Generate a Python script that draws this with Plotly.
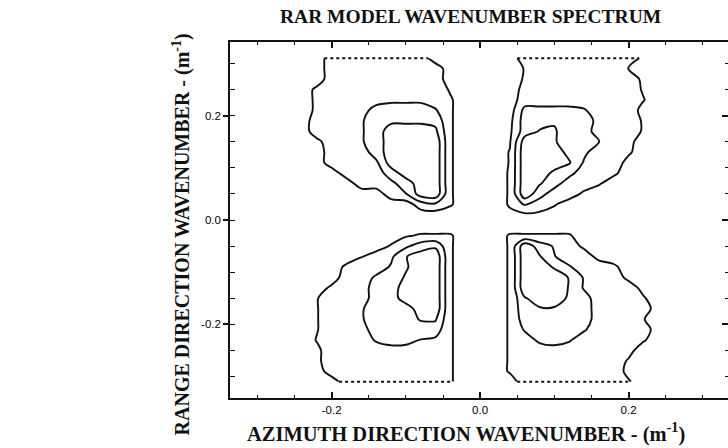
import plotly.graph_objects as go

# ---- grid coordinates (wavenumber, m^-1) ----
KX = [-0.34, -0.32, -0.30, -0.28, -0.26, -0.24, -0.22, -0.20, -0.18, -0.16, -0.14, -0.12,
      -0.10, -0.08, -0.06, -0.04, -0.02, 0.00, 0.02, 0.04, 0.06, 0.08, 0.10, 0.12, 0.14,
      0.16, 0.18, 0.20, 0.22, 0.24, 0.26, 0.28, 0.30, 0.32, 0.34]
KY = [0.31, 0.29, 0.27, 0.25, 0.23, 0.21, 0.19, 0.17, 0.15, 0.13, 0.11, 0.09, 0.07, 0.05,
      0.03, 0.01, -0.01, -0.03, -0.05, -0.07, -0.09, -0.11, -0.13, -0.15, -0.17, -0.19,
      -0.21, -0.23, -0.25, -0.27, -0.29, -0.31]

# ---- spectral level, per lobe (rows top->bottom) ----
# left lobes cover kx -0.24 .. -0.02, right lobes cover kx 0.02 .. 0.24
TL = [
    [0, 0, 1, 1, 1, 1, 1, 1, 1, 0, 0, 0],
    [0, 0, 1, 1, 1, 1, 1, 1, 1, 1, 0, 0],
    [0, 0, 1, 1, 1, 1, 1, 1, 1, 1, 0, 0],
    [0, 0.7, 1, 1, 1, 1, 1, 1, 1, 1, 0.4, 0],
    [0, 0.7, 1, 1, 1, 1, 1.3, 1.3, 1.3, 1, 0.6, 0],
    [0, 0.7, 1, 1, 1, 2, 2, 2, 2, 1.6, 0.6, 0],
    [0, 1, 1, 1, 1.4, 2, 2.3, 2.3, 2.3, 2.2, 0.6, 0],
    [0, 1, 1, 1, 1.4, 2, 3, 3, 3, 2.7, 0.6, 0],
    [0, 0.25, 1, 1, 1.4, 2, 3, 3, 3, 3.2, 0.6, 0],
    [0, 0, 1, 1, 1, 2, 3, 3, 3, 3.2, 0.6, 0],
    [0, 0, 1, 1, 1, 1.3, 3, 3, 3, 3.2, 0.6, 0],
    [0, 0, 0, 1, 1, 1, 2, 3, 3, 3.2, 0.6, 0],
    [0, 0, 0, 0, 1, 1, 1.25, 2, 3, 3.2, 0.6, 0],
    [0, 0, 0, 0, 0, 0, 1, 1.45, 3, 3.2, 0.6, 0],
    [0, 0, 0, 0, 0, 0, 0, 0, 1, 1.3, 0.6, 0],
    [0, 0, 0, 0, 0, 0, 0, 0, 0, 0, 0, 0],
]
TR = [
    [0, 0, 1, 1, 1, 1, 1, 1, 1, 1, 0.3, 0],
    [0, 0, 0.55, 1, 1, 1, 1, 1, 1, 0.45, 0, 0],
    [0, 0, 0.6, 1, 1, 1, 1, 1, 1, 1, 0.3, 0],
    [0, 0, 0.8, 1, 1, 1, 1, 1, 1, 1, 0.4, 0],
    [0, 0, 1, 1, 1, 1, 1, 1, 1, 1, 0.55, 0],
    [0, 0, 1.8, 1.8, 1.8, 1.8, 1.6, 1, 1, 1, 0.2, 0],
    [0, 0.2, 2, 2.2, 2.4, 2, 2, 1.2, 1, 1, 0.4, 0],
    [0, 0.3, 2, 2.55, 2.6, 2, 2, 1, 1, 1, 0.4, 0],
    [0, 0.4, 3, 3, 2.6, 2, 2, 1.55, 1, 0.8, 0, 0],
    [0, 0.55, 3.2, 3, 3, 2.2, 1.7, 1, 1, 0.65, 0, 0],
    [0, 0.55, 3.2, 3, 3, 2.6, 1.4, 1, 1, 0.2, 0, 0],
    [0, 0.6, 3.2, 3, 2.3, 1.8, 1, 1, 0.7, 0, 0, 0],
    [0, 0.6, 3.2, 2.6, 1.9, 1, 1, 0.6, 0, 0, 0, 0],
    [0, 0.6, 3.2, 1.9, 1, 1, 0.3, 0, 0, 0, 0, 0],
    [0, 0.6, 1.6, 1, 0.6, 0, 0, 0, 0, 0, 0, 0],
    [0, 0.3, 0.3, 0.3, 0, 0, 0, 0, 0, 0, 0, 0],
]
BL = [
    [0, 0, 0, 0, 0, 0, 0, 0, 0, 0, 0, 0],
    [0, 0, 0, 0, 0, 0, 0, 0.4, 0.6, 0.6, 0.6, 0],
    [0, 0, 0, 0, 0, 0, 0.6, 1.3, 2, 2.3, 0.6, 0],
    [0, 0, 0, 0, 0.45, 1, 1.3, 2.45, 3, 3.2, 0.6, 0],
    [0, 0, 0, 0.7, 1, 1, 1.6, 2.4, 3, 3.2, 0.6, 0],
    [0, 0, 0, 1, 1, 1.65, 2, 2.6, 3, 3.2, 0.6, 0],
    [0, 0, 0.7, 1, 1, 2, 2, 3, 3, 3.2, 0.6, 0],
    [0, 0.45, 1, 1, 1, 2, 2, 3, 3, 3.2, 0.6, 0],
    [0, 0.45, 1, 1, 1.4, 2, 2, 2, 3, 3.2, 0.6, 0],
    [0, 0.45, 1, 1, 1.4, 2, 2, 2, 2.6, 2.6, 0.6, 0],
    [0, 0.45, 1, 1, 1.1, 2, 2, 2, 2, 2, 0.6, 0],
    [0, 0.55, 1, 1, 1, 1.6, 2, 1.9, 1.45, 1.3, 0.6, 0],
    [0, 0.3, 1, 1, 1, 1, 1, 1, 1, 1, 0.6, 0],
    [0, 0.3, 1, 1, 1, 1, 1, 1, 1, 1, 0.6, 0],
    [0, 0, 1, 1, 1, 1, 1, 1, 1, 1, 0.6, 0],
    [0, 0, 0, 1, 1, 1, 1, 1, 1, 1, 0.6, 0],
]
BR = [
    [0, 0, 0, 0, 0, 0, 0, 0, 0, 0, 0, 0],
    [0, 0.6, 0.6, 0.6, 0.6, 0.6, 0, 0, 0, 0, 0, 0],
    [0, 0.6, 3.2, 2, 1.4, 1, 0.3, 0, 0, 0, 0, 0],
    [0, 0.6, 3.2, 2.6, 1.55, 1, 1, 0.2, 0, 0, 0, 0],
    [0, 0.6, 3.2, 3, 2.4, 1.6, 1, 1, 0.7, 0, 0, 0],
    [0, 0.6, 3.2, 3, 3, 2.45, 1.4, 1, 1, 0.25, 0, 0],
    [0, 0.6, 3.2, 3, 3, 2.45, 1.4, 1, 1, 1, 0.2, 0],
    [0, 0.6, 2.4, 3, 3, 2.35, 1.9, 1, 1, 1, 0.6, 0],
    [0, 0.6, 2.2, 2.4, 2.4, 2.4, 2, 1, 1, 1, 1, 0],
    [0, 0.6, 2, 2, 2, 2, 2, 1, 1, 1, 0.55, 0],
    [0, 0.6, 1.6, 2, 2, 2, 1.6, 1, 1, 1, 1, 0],
    [0, 0.6, 1, 1.7, 2, 1.6, 1, 1, 1, 1, 0.6, 0],
    [0, 0.6, 1, 1, 1, 1, 1, 1, 1, 0.8, 0, 0],
    [0, 0.6, 1, 1, 1, 1, 1, 1, 1, 0.4, 0, 0],
    [0, 0.6, 1, 1, 1, 1, 1, 1, 1, 0.25, 0, 0],
    [0, 0, 1, 1, 1, 1, 1, 1, 1, 0.6, 0, 0],
]

X_TICKS = [-0.2, 0.0, 0.2]
X_TICKTEXT = ["-0.2", "0.0", "0.2"]
Y_TICKS = [-0.2, 0.0, 0.2]
Y_TICKTEXT = ["-0.2", "0.0", "0.2"]

# ---- assemble full grid ----
Z = []
for a, b in zip(TL + BL, TR + BR):
    Z.append([0.0] * 5 + list(a) + [0.0] + list(b) + [0.0] * 5)
Z_plot = Z[::-1]
KY_plot = KY[::-1]

# edges of the data region where the outer level is exceeded (dotted in original)
def edge_segments(row, level=0.5):
    xs = []
    inside = False
    start = None
    for j in range(len(row)):
        v = row[j]
        if not inside and v >= level:
            if j > 0:
                v0 = row[j - 1]
                start = KX[j - 1] + (level - v0) / (v - v0) * (KX[j] - KX[j - 1])
            else:
                start = KX[j]
            inside = True
        elif inside and v < level:
            v0 = row[j - 1]
            end = KX[j - 1] + (v0 - level) / (v0 - v) * (KX[j] - KX[j - 1])
            xs += [start, end, None]
            inside = False
    return xs

fig = go.Figure()
fig.add_trace(go.Contour(
    x=KX, y=KY_plot, z=Z_plot,
    autocontour=False,
    contours=dict(start=0.5, end=2.5, size=1, coloring="lines", showlabels=False),
    colorscale=[[0, "#111111"], [1, "#111111"]],
    showscale=False,
    line=dict(width=1.9, smoothing=0.9),
    hoverinfo="skip",
))

for row, yv in ((Z[0], KY[0]), (Z[-1], KY[-1])):
    xs = edge_segments(row)
    fig.add_trace(go.Scatter(
        x=xs, y=[yv if v is not None else None for v in xs],
        mode="lines", line=dict(color="#111111", width=2, dash="dot"),
        showlegend=False, hoverinfo="skip", yaxis="y2",
    ))

XR = [-0.337, 0.334]
YR = [-0.341, 0.341]
tickfont = dict(family="Liberation Sans, Arial, sans-serif", size=11.5, color="black")

fig.update_layout(
    width=728, height=448,
    margin=dict(l=230, r=0, t=42, b=50),
    paper_bgcolor="white", plot_bgcolor="white",
    showlegend=False,
    xaxis=dict(
        range=XR, tickmode="array", tickvals=X_TICKS, ticktext=X_TICKTEXT,
        ticks="inside", ticklen=6, tickwidth=1.5, tickcolor="#111111",
        showline=True, linecolor="#111111", linewidth=1.5, mirror="ticks",
        showgrid=False, zeroline=False, tickfont=tickfont,
        minor=dict(tickmode="linear", tick0=0, dtick=0.05, ticks="inside",
                   ticklen=3, tickwidth=1, tickcolor="#111111", showgrid=False),
    ),
    yaxis=dict(
        range=YR, tickmode="array", tickvals=Y_TICKS, ticktext=Y_TICKTEXT,
        ticks="outside", ticklen=5, tickwidth=1.5, tickcolor="#111111",
        showline=True, linecolor="#111111", linewidth=1.5, mirror=False,
        showgrid=False, zeroline=False, tickfont=tickfont,
        minor=dict(tickmode="linear", tick0=0, dtick=0.05, ticks="inside",
                   ticklen=5, tickwidth=1, tickcolor="#111111", showgrid=False),
    ),
    yaxis2=dict(
        range=YR, overlaying="y", side="right", tickmode="array", tickvals=Y_TICKS,
        showticklabels=False, ticks="inside", ticklen=6, tickwidth=1.5,
        tickcolor="#111111", showline=False, showgrid=False, zeroline=False,
        minor=dict(tickmode="linear", tick0=0, dtick=0.05, ticks="inside",
                   ticklen=3, tickwidth=1, tickcolor="#111111", showgrid=False),
    ),
)

serif_title = dict(family="Liberation Serif, Times New Roman, serif", size=19.5, color="#111111")
serif_x = dict(family="Liberation Serif, Times New Roman, serif", size=20.5, color="#111111")
serif_y = dict(family="Liberation Serif, Times New Roman, serif", size=20, color="#111111")
fig.add_annotation(text="<b>RAR MODEL WAVENUMBER SPECTRUM</b>", xref="paper", yref="paper",
                   x=0.482, y=1.073, xanchor="center", yanchor="middle", showarrow=False, font=serif_title)
fig.add_annotation(text="<b>AZIMUTH DIRECTION WAVENUMBER - (m<sup>-1</sup>)</b>", xref="paper", yref="paper",
                   x=0.474, y=-0.098, xanchor="center", yanchor="middle", showarrow=False, font=serif_x)
fig.add_annotation(text="<b>RANGE DIRECTION WAVENUMBER - (m<sup>-1</sup>)</b>", xref="paper", yref="paper",
                   x=-0.098, y=0.46, xanchor="center", yanchor="middle", showarrow=False,
                   textangle=-90, font=serif_y)

fig.write_html("out.html", config={"displayModeBar": False},
               post_script="document.body.style.margin='0';document.body.style.padding='0';")
